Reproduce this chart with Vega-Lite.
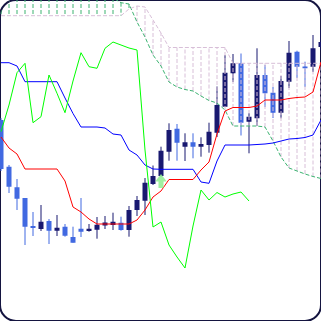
{
  "$schema": "https://vega.github.io/schema/vega-lite/v6.json",
  "width": 321,
  "height": 321,
  "padding": 0,
  "autosize": {"type": "fit", "contains": "padding"},
  "background": "white",
  "config": {
    "view": {"stroke": "#141440", "strokeWidth": 2, "cornerRadius": 16, "fill": "white"}
  },
  "datasets": {
    "bars": [
      {"i": 0, "o": 201, "h": 203, "l": 150, "c": 152, "t": 184, "kj": 258.3, "ch": 189.3, "a": 323, "b": 305.3},
      {"i": 1, "o": 154.3, "h": 156, "l": 128, "c": 134.3, "t": 173, "kj": 258.3, "ch": 216, "a": 323, "b": 305.3},
      {"i": 2, "o": 133.7, "h": 142, "l": 111, "c": 122.3, "t": 167, "kj": 255, "ch": 248.3, "a": 323, "b": 305.3},
      {"i": 3, "o": 123, "h": 123, "l": 76, "c": 94.3, "t": 152, "kj": 239.3, "ch": 257.7, "a": 323, "b": 305.3},
      {"i": 4, "o": 95, "h": 109, "l": 85, "c": 93, "t": 152, "kj": 239.3, "ch": 198.3, "a": 323, "b": 305.3},
      {"i": 5, "o": 92, "h": 116, "l": 90, "c": 99.3, "t": 152, "kj": 239.3, "ch": 204.3, "a": 323, "b": 305.3},
      {"i": 6, "o": 100, "h": 102, "l": 77, "c": 90.3, "t": 152, "kj": 239.3, "ch": 246, "a": 323, "b": 305.3},
      {"i": 7, "o": 90.3, "h": 106, "l": 85, "c": 93.3, "t": 152, "kj": 239.3, "ch": 227.7, "a": 323, "b": 305.3},
      {"i": 8, "o": 94.3, "h": 97, "l": 84.3, "c": 85.3, "t": 140, "kj": 223, "ch": 208.3, "a": 323, "b": 305.3},
      {"i": 9, "o": 84, "h": 94.3, "l": 78.3, "c": 78.3, "t": 114, "kj": 207.5, "ch": 240, "a": 323, "b": 305.3},
      {"i": 10, "o": 92.3, "h": 123, "l": 84, "c": 89.3, "t": 109, "kj": 194, "ch": 268.3, "a": 323, "b": 305.3},
      {"i": 11, "o": 90, "h": 97, "l": 89.3, "c": 92.3, "t": 102, "kj": 194, "ch": 254.3, "a": 323, "b": 305.3},
      {"i": 12, "o": 91.3, "h": 104, "l": 82.3, "c": 96.3, "t": 97, "kj": 194, "ch": 252.7, "a": 323, "b": 305.3},
      {"i": 13, "o": 95.5, "h": 105, "l": 92, "c": 98.5, "t": 97, "kj": 193, "ch": 272.7, "a": 323, "b": 305.3},
      {"i": 14, "o": 96, "h": 108.3, "l": 91, "c": 99.3, "t": 97, "kj": 187, "ch": 279, "a": 323, "b": 305.3},
      {"i": 15, "o": 98.3, "h": 104.3, "l": 90.3, "c": 91, "t": 97, "kj": 186, "ch": 276, "a": 318.3, "b": 305.3},
      {"i": 16, "o": 91, "h": 115, "l": 84.3, "c": 111, "t": 97, "kj": 171, "ch": 273, "a": 317, "b": 312},
      {"i": 17, "o": 111, "h": 125, "l": 105, "c": 121, "t": 101, "kj": 166, "ch": 271, "a": 299, "b": 315},
      {"i": 18, "o": 120.3, "h": 143, "l": 106, "c": 138.3, "t": 111, "kj": 156, "ch": 171, "a": 284, "b": 314},
      {"i": 19, "o": 137, "h": 155.5, "l": 136, "c": 145, "t": 124, "kj": 152, "ch": 94, "a": 266, "b": 301},
      {"i": 20, "o": 145, "h": 174.3, "l": 144.3, "c": 170.3, "t": 130, "kj": 151.7, "ch": 99, "a": 255, "b": 288},
      {"i": 21, "o": 169.3, "h": 197.7, "l": 160.3, "c": 191, "t": 141.5, "kj": 151.7, "ch": 76, "a": 239, "b": 273.5},
      {"i": 22, "o": 192.3, "h": 197, "l": 160.3, "c": 178.3, "t": 141.5, "kj": 151.7, "ch": 64, "a": 234, "b": 273.5},
      {"i": 23, "o": 174.3, "h": 187.7, "l": 160, "c": 178.7, "t": 141.5, "kj": 151.7, "ch": 53, "a": 231.5, "b": 273.5},
      {"i": 24, "o": 178.7, "h": 187.7, "l": 162.7, "c": 174.3, "t": 141.5, "kj": 151.7, "ch": 95, "a": 230, "b": 273.5},
      {"i": 25, "o": 174.3, "h": 183.7, "l": 164.3, "c": 177, "t": 151, "kj": 139, "ch": 131, "a": 225, "b": 273.5},
      {"i": 26, "o": 176, "h": 198.3, "l": 168.3, "c": 189.3, "t": 159, "kj": 137.7, "ch": 121, "a": 220.5, "b": 273.5},
      {"i": 27, "o": 188.3, "h": 234.5, "l": 184, "c": 216, "t": 187, "kj": 160, "ch": 128.5, "a": 218, "b": 273.5},
      {"i": 28, "o": 214.3, "h": 266, "l": 214.3, "c": 248.3, "t": 210, "kj": 176, "ch": 124, "a": 211, "b": 273.5},
      {"i": 29, "o": 247.7, "h": 267, "l": 239, "c": 257.7, "t": 213.5, "kj": 176, "ch": 127, "a": 195, "b": 257.7},
      {"i": 30, "o": 257.7, "h": 267.5, "l": 185.5, "c": 198.3, "t": 213.5, "kj": 176, "ch": 129, "a": 195, "b": 257.7},
      {"i": 31, "o": 199.3, "h": 208, "l": 167.7, "c": 204.3, "t": 213.5, "kj": 176, "ch": 120, "a": 195, "b": 257.7},
      {"i": 32, "o": 202.7, "h": 272.7, "l": 195, "c": 246, "t": 215, "kj": 176.5, "a": 195, "b": 257.7},
      {"i": 33, "o": 246, "h": 256, "l": 214, "c": 227.7, "t": 221, "kj": 177, "a": 194, "b": 257.7},
      {"i": 34, "o": 228.3, "h": 234, "l": 203, "c": 208.3, "t": 221, "kj": 178, "a": 180, "b": 257.7},
      {"i": 35, "o": 208.3, "h": 245, "l": 202.7, "c": 240, "t": 221, "kj": 180, "a": 164, "b": 257.7},
      {"i": 36, "o": 239.3, "h": 280, "l": 233, "c": 268.3, "t": 222.5, "kj": 182, "a": 153, "b": 257.7},
      {"i": 37, "o": 269.3, "h": 270.3, "l": 243, "c": 254.3, "t": 223.5, "kj": 182.5, "a": 150, "b": 257.7},
      {"i": 38, "o": 254.5, "h": 259.3, "l": 234, "c": 252.7, "t": 224, "kj": 183.5, "a": 147, "b": 257.7},
      {"i": 39, "o": 254.3, "h": 286, "l": 249, "c": 272.7, "t": 229, "kj": 186, "a": 144.5, "b": 257.7},
      {"i": 40, "o": 274, "h": 291, "l": 271, "c": 279, "t": 259, "kj": 201, "a": 142.5, "b": 257.7}
    ],
    "signals": [
      {"i": 20, "p": 140}
    ]
  },
  "data": {"name": "bars"},
  "encoding": {
    "x": {"field": "i", "type": "quantitative", "scale": {"domain": [-0.125, 40], "nice": false, "zero": false, "padding": 0}, "axis": null}
  },
  "layer": [
    {
      "mark": {"type": "rule", "strokeWidth": 1, "clip": true},
      "encoding": {
        "y": {"field": "h", "type": "quantitative", "scale": {"domain": [0, 321], "nice": false, "zero": false}, "axis": null},
        "y2": {"field": "l"},
        "color": {"condition": {"test": "datum.c >= datum.o", "value": "#191970"}, "value": "#4169E1"}
      }
    },
    {
      "mark": {"type": "bar", "width": 5, "clip": true},
      "encoding": {
        "y": {"field": "o", "type": "quantitative", "scale": {"domain": [0, 321], "nice": false, "zero": false}, "axis": null},
        "y2": {"field": "c"},
        "color": {"condition": {"test": "datum.c >= datum.o", "value": "#191970"}, "value": "#4169E1"}
      }
    },
    {
      "mark": {"type": "rule", "strokeWidth": 1, "strokeDash": [4, 2], "clip": true},
      "encoding": {
        "y": {"field": "a", "type": "quantitative", "scale": {"domain": [0, 321], "nice": false, "zero": false}, "axis": null},
        "y2": {"field": "b"},
        "color": {"condition": {"test": "datum.a > datum.b", "value": "#3CB371"}, "value": "#D8BFD8"}
      }
    },
    {
      "mark": {"type": "line", "color": "#3CB371", "strokeWidth": 1, "strokeDash": [4, 2], "clip": true},
      "encoding": {
        "y": {"field": "a", "type": "quantitative", "scale": {"domain": [0, 321], "nice": false, "zero": false}, "axis": null}
      }
    },
    {
      "mark": {"type": "line", "color": "#D8BFD8", "strokeWidth": 1, "strokeDash": [4, 2], "clip": true},
      "encoding": {
        "y": {"field": "b", "type": "quantitative", "scale": {"domain": [0, 321], "nice": false, "zero": false}, "axis": null}
      }
    },
    {
      "mark": {"type": "line", "color": "#0000FF", "strokeWidth": 1, "clip": true},
      "encoding": {
        "y": {"field": "kj", "type": "quantitative", "scale": {"domain": [0, 321], "nice": false, "zero": false}, "axis": null}
      }
    },
    {
      "mark": {"type": "line", "color": "#FF0000", "strokeWidth": 1, "clip": true},
      "encoding": {
        "y": {"field": "t", "type": "quantitative", "scale": {"domain": [0, 321], "nice": false, "zero": false}, "axis": null}
      }
    },
    {
      "mark": {"type": "line", "color": "#00FF00", "strokeWidth": 1, "clip": true},
      "encoding": {
        "y": {"field": "ch", "type": "quantitative", "scale": {"domain": [0, 321], "nice": false, "zero": false}, "axis": null}
      }
    },
    {
      "data": {"name": "signals"},
      "mark": {
        "type": "point",
        "shape": "M0,-1.17L0.97,0.1L0.42,0.1L0.42,1.17L-0.42,1.17L-0.42,0.1L-0.97,0.1Z",
        "size": 144,
        "filled": true,
        "color": "#90EE90",
        "opacity": 0.85,
        "clip": true
      },
      "encoding": {
        "x": {"field": "i", "type": "quantitative"},
        "y": {"field": "p", "type": "quantitative", "scale": {"domain": [0, 321], "nice": false, "zero": false}, "axis": null}
      }
    }
  ]
}
